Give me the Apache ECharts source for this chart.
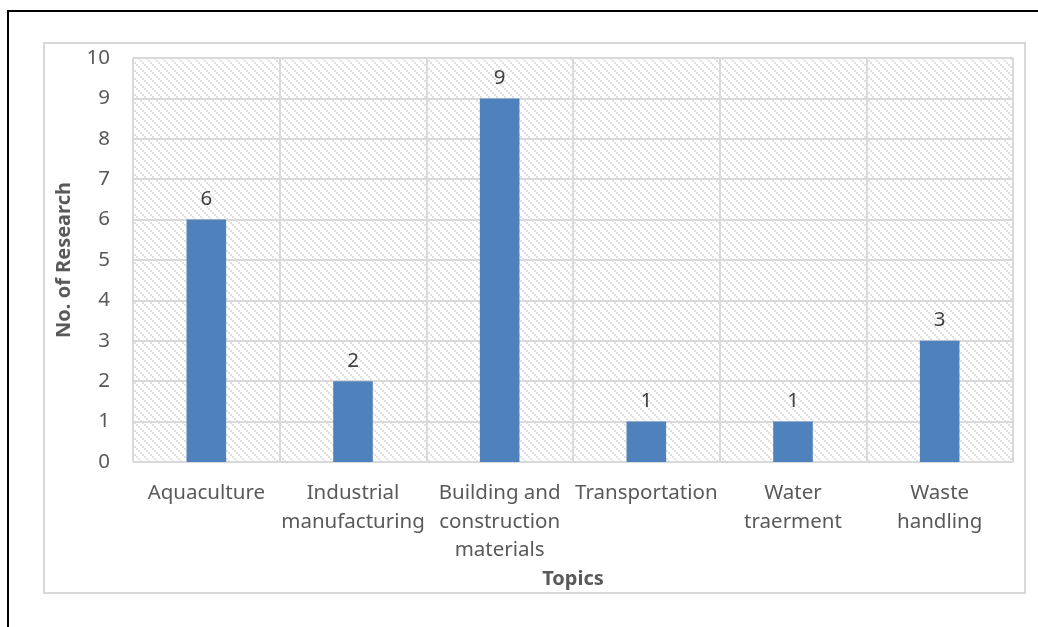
<!DOCTYPE html>
<html>
<head>
<meta charset="utf-8">
<script src="https://cdn.jsdelivr.net/npm/echarts@6/dist/echarts.min.js"></script>
<style>
  html, body { margin: 0; padding: 0; background: #fff; }
  #main { width: 1038px; height: 627px; }
</style>
</head>
<body>
<div id="main"></div>
<script>
// data
var topics = ['Aquaculture', 'Industrial\nmanufacturing', 'Building and\nconstruction\nmaterials',
              'Transportation', 'Water\ntraerment', 'Waste\nhandling'];
var researchCount = [6, 2, 9, 1, 1, 3];

// light diagonal hatch for the plot area
function hatch() {
	var c = document.createElement('canvas');
	c.width = 8; c.height = 8;
	var ctx = c.getContext('2d');
	ctx.fillStyle = '#ffffff';
	ctx.fillRect(0, 0, 8, 8);
	ctx.fillStyle = '#e0e0e0';
	for (var i = 0; i < 8; i += 2) {
		ctx.fillRect(i, i, 2, 2);
	}
	return c;
}

var myChart = echarts.init(document.getElementById('main'));
var font = '"Noto Sans", sans-serif';
option = {
	animation : false,
	graphic : [ {
		type : 'rect',
		shape : { x : 8, y : 11, width : 1200, height : 800 },
		style : { fill : 'none', stroke : '#000', lineWidth : 2 }
	}, {
		type : 'rect',
		shape : { x : 44, y : 43, width : 981, height : 550 },
		style : { fill : 'none', stroke : '#d9d9d9', lineWidth : 2 }
	} ],
	grid : {
		left : 133,
		right : 25,
		top : 58,
		bottom : 165,
		show : true,
		borderColor : '#d9d9d9',
		borderWidth : 1,
		backgroundColor : { image : hatch(), repeat : 'repeat' }
	},
	xAxis : {
		type : 'category',
		data : topics,
		name : 'Topics',
		nameLocation : 'middle',
		nameGap : 106,
		nameTextStyle : { fontFamily : font, fontSize : 20, fontWeight : 'bold', color : '#595959' },
		axisLine : { lineStyle : { color : '#d9d9d9', width : 1 } },
		axisTick : { show : false },
		axisLabel : { fontFamily : font, fontSize : 20.5, color : '#595959', margin : 17, lineHeight : 28.5, interval : 0 },
		splitLine : { show : true, lineStyle : { color : '#d9d9d9', width : 2 } }
	},
	yAxis : {
		type : 'value',
		min : 0,
		max : 10,
		interval : 1,
		name : 'No. of Research',
		nameLocation : 'middle',
		nameGap : 59,
		nameTextStyle : { fontFamily : font, fontSize : 20, fontWeight : 'bold', color : '#595959' },
		axisLine : { show : false },
		axisTick : { show : false },
		axisLabel : { fontFamily : font, fontSize : 20.5, color : '#595959', margin : 23 },
		splitLine : { lineStyle : { color : '#d9d9d9', width : 2 } }
	},
	series : [ {
		type : 'bar',
		data : researchCount,
		barWidth : '27%',
		itemStyle : { color : '#4f81bd' },
		label : {
			show : true,
			position : 'top',
			distance : 10,
			fontFamily : font,
			fontSize : 20.5,
			color : '#404040'
		}
	} ]
};
myChart.setOption(option);
</script>
</body>
</html>
